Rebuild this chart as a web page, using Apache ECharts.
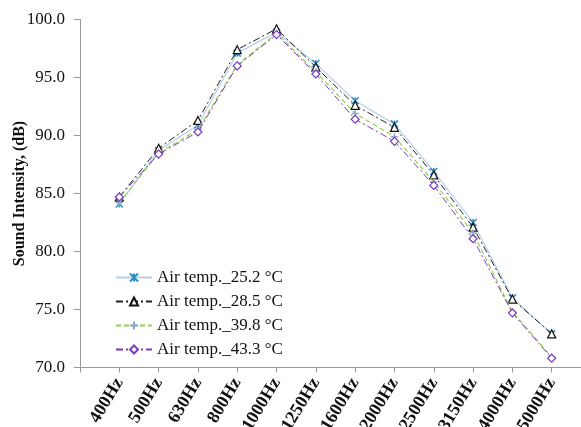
<!DOCTYPE html>
<html>
<head>
<meta charset="utf-8">
<script src="https://cdn.jsdelivr.net/npm/echarts@6/dist/echarts.min.js"></script>
<style>
html,body{margin:0;padding:0;background:#fff;}
#chart{width:581px;height:427px;}
</style>
</head>
<body>
<div id="chart"></div>
<script>
const categories = ['400Hz','500Hz','630Hz','800Hz','1000Hz','1250Hz','1600Hz','2000Hz','2500Hz','3150Hz','4000Hz','5000Hz'];
const seriesNames = ['Air temp._25.2 °C','Air temp._28.5 °C','Air temp._39.8 °C','Air temp._43.3 °C'];
const temp252 = [84.1, 88.7, 90.9, 97.1, 98.9, 96.2, 93.0, 91.0, 86.9, 82.5, 76.0, 72.9];
const temp285 = [84.7, 88.9, 91.3, 97.4, 99.2, 95.9, 92.6, 90.7, 86.6, 82.1, 75.9, 72.9];
const temp398 = [84.2, 88.5, 90.5, 96.1, 98.8, 95.5, 91.9, 89.9, 86.0, 81.6, 74.8, 70.9];
const temp433 = [84.7, 88.4, 90.3, 96.0, 98.7, 95.3, 91.4, 89.5, 85.7, 81.1, 74.7, 70.8];
const yTicks = [70, 75, 80, 85, 90, 95, 100];

const toPoints = arr => arr.map((v, i) => [i + 1, v]);
const serif = 'Liberation Serif';

const chart = echarts.init(document.getElementById('chart'), null, {renderer: 'canvas'});
chart.setOption({
  animation: false,
  backgroundColor: '#ffffff',
  grid: {left: 80, top: 19.5, width: 511, height: 348, containLabel: false, outerBoundsMode: 'none'},
  legend: {
    orient: 'vertical',
    left: 110,
    top: 264,
    itemWidth: 36,
    itemHeight: 10,
    itemGap: 7,
    textStyle: {fontFamily: serif, fontSize: 17, color: '#111'},
    data: seriesNames
  },
  xAxis: {
    type: 'value',
    min: 0,
    max: 13,
    interval: 1,
    splitLine: {show: false},
    axisLine: {show: true, lineStyle: {color: '#9a9a9a', width: 1}},
    axisTick: {show: true, length: 5, lineStyle: {color: '#9a9a9a'}},
    axisLabel: {
      rotate: 59,
      margin: 12,
      fontFamily: serif,
      fontWeight: 'bold',
      fontSize: 18,
      color: '#111',
      hideOverlap: false,
      formatter: v => (v >= 1 && v <= categories.length && Number.isInteger(v)) ? categories[v - 1] : ''
    }
  },
  yAxis: {
    type: 'value',
    min: yTicks[0],
    max: yTicks[yTicks.length - 1],
    interval: 5,
    name: 'Sound Intensity, (dB)',
    nameLocation: 'middle',
    nameGap: 52,
    nameMoveOverlap: false,
    nameTextStyle: {fontFamily: serif, fontWeight: 'bold', fontSize: 16, color: '#111'},
    splitLine: {show: false},
    axisLine: {show: true, lineStyle: {color: '#9a9a9a', width: 1}},
    axisTick: {show: true, length: 6, lineStyle: {color: '#9a9a9a'}},
    axisLabel: {
      margin: 15,
      fontFamily: serif,
      fontSize: 17,
      color: '#111',
      formatter: v => v.toFixed(1)
    }
  },
  series: [
    {
      name: seriesNames[0],
      type: 'line',
      data: toPoints(temp252),
      symbol: 'path://M0,0L10,10M10,0L0,10M5,0L5,10',
      symbolSize: 7,
      lineStyle: {color: '#b7cde9', width: 1.2, type: 'solid'},
      itemStyle: {color: '#2a8fc4', borderColor: '#2a8fc4', borderWidth: 1.5},
      z: 2
    },
    {
      name: seriesNames[1],
      type: 'line',
      data: toPoints(temp285),
      symbol: 'triangle',
      symbolSize: 8,
      lineStyle: {color: '#222222', width: 1, type: [7, 3, 2, 3]},
      itemStyle: {color: '#ffffff', borderColor: '#111111', borderWidth: 1.2},
      z: 3
    },
    {
      name: seriesNames[2],
      type: 'line',
      data: toPoints(temp398),
      symbol: 'path://M5,0L5,10M0,5L10,5',
      symbolSize: 7,
      lineStyle: {color: '#92d050', width: 1.2, type: [5, 3]},
      itemStyle: {color: '#8aa8cf', borderColor: '#8aa8cf', borderWidth: 1.5},
      z: 4
    },
    {
      name: seriesNames[3],
      type: 'line',
      data: toPoints(temp433),
      symbol: 'diamond',
      symbolSize: 8,
      lineStyle: {color: '#7a3bbf', width: 1, type: [7, 3, 2, 3]},
      itemStyle: {color: '#ffffff', borderColor: '#7a3bbf', borderWidth: 1.2},
      z: 5
    }
  ]
});
</script>
</body>
</html>
